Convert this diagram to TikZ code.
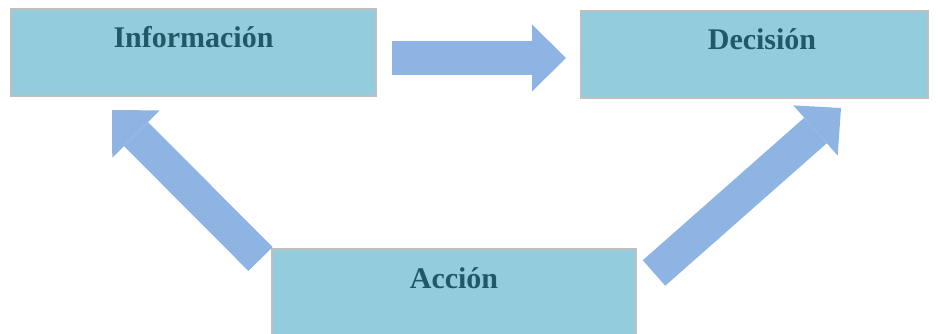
\documentclass[tikz,border=0pt]{standalone}
\usepackage{fontspec}
\setmainfont{Liberation Serif}
\usetikzlibrary{arrows.meta}
\definecolor{boxfill}{HTML}{93CDDD}
\definecolor{boxline}{HTML}{BFBFBF}
\definecolor{arrowblue}{HTML}{8EB4E3}
\definecolor{txtteal}{HTML}{215868}
\tikzset{
  stagebox/.style={draw=boxline, line width=1.5pt, fill=boxfill, rectangle,
    minimum height=87pt, inner sep=0pt, outer sep=0pt},
  stagelabel/.style={anchor=base, inner sep=0pt, text=txtteal,
    font=\fontsize{30}{36}\selectfont\bfseries},
  blockarrow/.style={draw=arrowblue, line width=34pt, line cap=butt,
    -{Triangle[length=34pt, width=67pt, line width=0pt]}}
}
\begin{document}
\begin{tikzpicture}[x=1pt, y=-1pt]
\useasboundingbox (0,0) rectangle (940,334);
\begin{scope}
\clip (0,0) rectangle (940,334);
% boxes
\node[stagebox, minimum width=365pt] (info) at (193.5,52.5) {};
\node[stagebox, minimum width=347pt] (dec) at (754.5,54.5) {};
\node[stagebox, minimum width=364pt] (acc) at (454,292.5) {};
% labels
\node[stagelabel] (infotxt) at (193.5,47.5) {Información};
\node[stagelabel] (dectxt) at (762,50) {Decisión};
\node[stagelabel] (acctxt) at (454,288) {Acción};
% arrow ends
\coordinate (a1s) at (392,58);
\coordinate (a1e) at (566,58);
\coordinate (a2s) at (654,273);
\coordinate (a2e) at (841,108);
\coordinate (a3s) at (260.5,259);
\coordinate (a3e) at (112,110);
% arrows
\draw[blockarrow] (a1s) -- (a1e);
\draw[blockarrow] (a2s) -- (a2e);
\draw[blockarrow] (a3s) -- (a3e);
\end{scope}
\end{tikzpicture}
\end{document}
